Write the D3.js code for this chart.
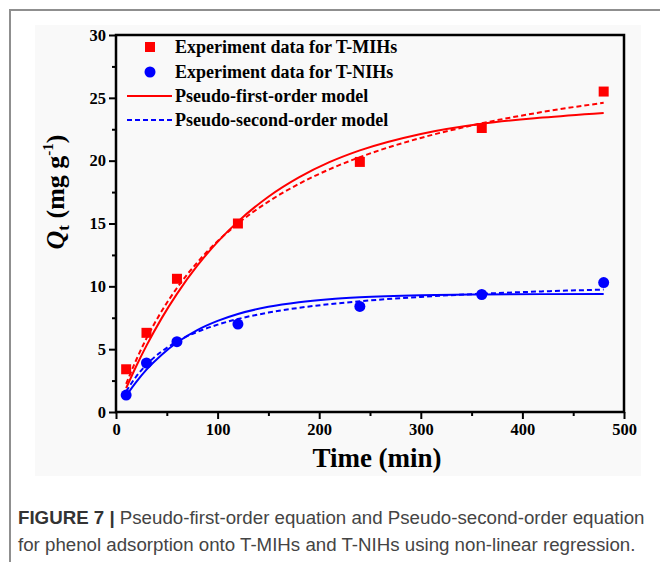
<!DOCTYPE html>
<meta charset="utf-8">
<style>
  body { margin: 0; background: #fff; }
  svg { display: block; }
  .tick text { font-family: "Liberation Serif", "Times New Roman", serif; font-weight: bold; font-size: 16.5px; fill: #000; }
  .legend text { font-family: "Liberation Serif", "Times New Roman", serif; font-weight: bold; font-size: 18px; fill: #000; }
  .caption { font-family: "Liberation Sans", Arial, sans-serif; font-size: 18.7px; fill: #444; }
</style>
<body>
<svg width="660" height="562"></svg>
<script src="https://d3js.org/d3.v7.min.js"></script>
<script>
  // experiment data
  var expTime = [10, 30, 60, 120, 240, 360, 480];
  var mihData = [3.4, 6.3, 10.6, 15.0, 19.9, 22.6, 25.5];
  var nihData = [1.35, 3.9, 5.6, 7.0, 8.4, 9.35, 10.3];

  // model curves
  var modelTime = [10, 20, 30, 45, 60, 80, 100, 120, 150, 180, 210, 240, 300, 360, 420, 480];
  var mihFirst = [1.9, 3.66, 5.28, 7.47, 9.4, 11.64, 13.54, 15.15, 17.13, 18.67, 19.88, 20.82, 22.13, 22.94, 23.43, 23.8];
  var mihSecond = [2.23, 4.16, 5.86, 8.03, 9.87, 11.9, 13.59, 15.0, 16.74, 18.15, 19.31, 20.28, 21.81, 22.97, 23.88, 24.6];
  var nihFirst = [1.29, 2.4, 3.37, 4.56, 5.53, 6.52, 7.25, 7.8, 8.37, 8.74, 8.98, 9.13, 9.29, 9.35, 9.38, 9.39];
  var nihSecond = [1.63, 2.84, 3.77, 4.82, 5.6, 6.38, 6.95, 7.4, 7.91, 8.29, 8.58, 8.81, 9.16, 9.41, 9.6, 9.74];

  var xTicks = [0, 100, 200, 300, 400, 500];
  var yTicks = [0, 5, 10, 15, 20, 25, 30];

  var svg = d3.select("svg");

  // outer figure border
  svg.append("path")
    .attr("d", "M10,570 L10,10 L662,10")
    .attr("fill", "none")
    .attr("stroke", "#8f8f8f")
    .attr("stroke-width", 2);

  // image background
  svg.append("rect")
    .attr("x", 35).attr("y", 25)
    .attr("width", 606).attr("height", 451)
    .attr("fill", "#f9f9f9");

  var x = d3.scaleLinear().domain([0, 500]).range([116, 624]);
  var y = d3.scaleLinear().domain([0, 30]).range([412, 35]);

  var g = svg.append("g");

  // minor ticks
  g.append("g")
    .attr("transform", "translate(0,412)")
    .call(d3.axisBottom(x).tickValues(d3.range(50, 500, 100)).tickSize(4).tickFormat(""))
    .call(function(a) { a.select(".domain").remove(); a.selectAll("line").attr("stroke-width", 2); });
  g.append("g")
    .attr("transform", "translate(116,0)")
    .call(d3.axisLeft(y).tickValues(d3.range(2.5, 30, 5)).tickSize(4).tickFormat(""))
    .call(function(a) { a.select(".domain").remove(); a.selectAll("line").attr("stroke-width", 2); });

  // major axes
  var xAxis = g.append("g")
    .attr("transform", "translate(0,412)")
    .call(d3.axisBottom(x).tickValues(xTicks).tickSize(7).tickPadding(4));
  var yAxis = g.append("g")
    .attr("transform", "translate(116,0)")
    .call(d3.axisLeft(y).tickValues(yTicks).tickSize(7).tickPadding(3));
  [xAxis, yAxis].forEach(function(a) {
    a.select(".domain").remove();
    a.selectAll("line").attr("stroke-width", 2);
  });

  // frame
  g.append("rect")
    .attr("x", 116).attr("y", 35)
    .attr("width", 508).attr("height", 377)
    .attr("fill", "none")
    .attr("stroke", "#000")
    .attr("stroke-width", 2.5);

  // curves
  var line = d3.line()
    .x(function(d) { return x(d[0]); })
    .y(function(d) { return y(d[1]); })
    .curve(d3.curveMonotoneX);

  function curve(vals, color, dashed) {
    g.append("path")
      .datum(modelTime.map(function(t, i) { return [t, vals[i]]; }))
      .attr("d", line)
      .attr("fill", "none")
      .attr("stroke", color)
      .attr("stroke-width", 2)
      .attr("stroke-dasharray", dashed ? "5,3" : null);
  }
  curve(mihFirst, "#ff0000", false);
  curve(mihSecond, "#ff0000", true);
  curve(nihFirst, "#0000ff", false);
  curve(nihSecond, "#0000ff", true);

  // points
  g.selectAll(".sq")
    .data(expTime.map(function(t, i) { return [t, mihData[i]]; }))
    .enter().append("rect")
    .attr("class", "sq")
    .attr("x", function(d) { return x(d[0]) - 5; })
    .attr("y", function(d) { return y(d[1]) - 5; })
    .attr("width", 10).attr("height", 10)
    .attr("fill", "#ff0000");

  g.selectAll(".dot")
    .data(expTime.map(function(t, i) { return [t, nihData[i]]; }))
    .enter().append("circle")
    .attr("class", "dot")
    .attr("cx", function(d) { return x(d[0]); })
    .attr("cy", function(d) { return y(d[1]); })
    .attr("r", 5.5)
    .attr("fill", "#0000ff");

  // legend
  var legend = svg.append("g").attr("class", "legend");
  legend.append("rect").attr("x", 145).attr("y", 42).attr("width", 10).attr("height", 10).attr("fill", "#ff0000");
  legend.append("circle").attr("cx", 150).attr("cy", 72).attr("r", 5.5).attr("fill", "#0000ff");
  legend.append("line").attr("x1", 127).attr("x2", 172).attr("y1", 96).attr("y2", 96)
    .attr("stroke", "#ff0000").attr("stroke-width", 2);
  legend.append("line").attr("x1", 127).attr("x2", 172).attr("y1", 120).attr("y2", 120)
    .attr("stroke", "#0000ff").attr("stroke-width", 2).attr("stroke-dasharray", "5,3");
  var labels = ["Experiment data for T-MIHs", "Experiment data for T-NIHs",
    "Pseudo-first-order model", "Pseudo-second-order model"];
  var rows = [47, 72, 96, 120];
  labels.forEach(function(s, i) {
    legend.append("text").attr("x", 175).attr("y", rows[i] + 6).text(s);
  });

  // axis titles
  svg.append("text")
    .attr("x", 377).attr("y", 467)
    .attr("text-anchor", "middle")
    .style("font-family", "Liberation Serif, serif")
    .style("font-weight", "bold")
    .style("font-size", "27px")
    .text("Time (min)");

  var yl = svg.append("text")
    .attr("transform", "translate(64,192) rotate(-90)")
    .attr("text-anchor", "middle")
    .style("font-family", "Liberation Serif, serif")
    .style("font-weight", "bold")
    .style("font-size", "26px");
  yl.append("tspan").style("font-style", "italic").text("Q");
  yl.append("tspan").attr("dy", 5).style("font-size", "17px").text("t");
  yl.append("tspan").attr("dy", -5).text(" (mg g");
  yl.append("tspan").attr("dy", -11).style("font-size", "15px").text("-1");
  yl.append("tspan").attr("dy", 11).text(")");

  // caption
  var c1 = svg.append("text").attr("class", "caption").attr("x", 18).attr("y", 524);
  c1.append("tspan").style("font-weight", "bold").style("fill", "#333").text("FIGURE 7 | ");
  c1.append("tspan").text("Pseudo-first-order equation and Pseudo-second-order equation");
  svg.append("text").attr("class", "caption").attr("x", 18).attr("y", 551)
    .text("for phenol adsorption onto T-MIHs and T-NIHs using non-linear regression.");
</script>
</body>
